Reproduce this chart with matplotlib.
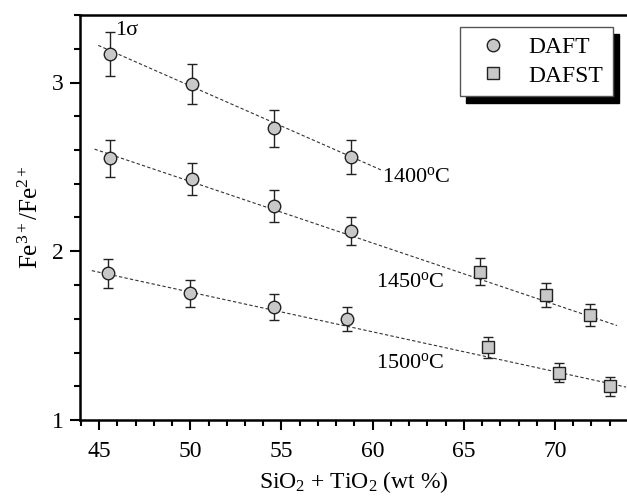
import numpy as np
import matplotlib.pyplot as plt
from matplotlib.ticker import MultipleLocator
from matplotlib.lines import Line2D

plt.rcParams['font.family'] = ['Liberation Serif', 'DejaVu Serif']
plt.rcParams['mathtext.fontset'] = 'custom'
plt.rcParams['mathtext.rm'] = 'Liberation Serif'
plt.rcParams['mathtext.it'] = 'Liberation Serif:italic'

# DAFT (circles)
x_daft = [45.6, 50.1, 54.6, 58.8]
y_daft_1400 = [3.17, 2.99, 2.73, 2.56]
e_daft_1400 = [0.13, 0.12, 0.11, 0.10]
y_daft_1450 = [2.55, 2.43, 2.27, 2.12]
e_daft_1450 = [0.11, 0.095, 0.095, 0.08]
y_daft_1500 = [1.87, 1.75, 1.67, 1.60]
e_daft_1500 = [0.085, 0.08, 0.075, 0.07]
x_daft_1500 = [45.5, 50.0, 54.6, 58.6]

# DAFST (squares)
x_dafst_1450 = [65.9, 69.5, 71.9]
y_dafst_1450 = [1.88, 1.74, 1.62]
e_dafst_1450 = [0.08, 0.07, 0.065]
x_dafst_1500 = [66.3, 70.2, 73.0]
y_dafst_1500 = [1.43, 1.28, 1.20]
e_dafst_1500 = [0.06, 0.057, 0.055]

# fitted lines (end points)
fit_1400_x = [44.95, 60.5]
fit_1400_y = [3.22, 2.48]
fit_1450_x = [44.75, 73.4]
fit_1450_y = [2.605, 1.56]
fit_1500_x = [44.6, 73.9]
fit_1500_y = [1.885, 1.195]

fig = plt.figure(figsize=(6.27, 4.97), dpi=100)
ax = fig.add_axes([80/627, 1-420/497, 547/627, 405/497])

fc = '#c8c8c8'
ec = '#222222'
for xs, ys in [(fit_1400_x, fit_1400_y), (fit_1450_x, fit_1450_y), (fit_1500_x, fit_1500_y)]:
    ax.plot(xs, ys, color='#333333', ls=(0, (3, 2)), lw=0.8, zorder=1)

kw = dict(fmt='o', ms=9, mfc=fc, mec=ec, mew=1.0, ecolor=ec, elinewidth=1.0,
          capsize=3.3, capthick=1.0, zorder=3)
ax.errorbar(x_daft, y_daft_1400, yerr=e_daft_1400, **kw)
ax.errorbar(x_daft, y_daft_1450, yerr=e_daft_1450, **kw)
ax.errorbar(x_daft_1500, y_daft_1500, yerr=e_daft_1500, **kw)
kw['fmt'] = 's'
kw['ms'] = 8.5
ax.errorbar(x_dafst_1450, y_dafst_1450, yerr=e_dafst_1450, **kw)
ax.errorbar(x_dafst_1500, y_dafst_1500, yerr=e_dafst_1500, **kw)

ax.set_xlim(43.95, 73.95)
ax.set_ylim(1, 3.4)
ax.xaxis.set_major_locator(MultipleLocator(5))
ax.xaxis.set_minor_locator(MultipleLocator(1))
ax.yaxis.set_major_locator(MultipleLocator(1))
ax.yaxis.set_minor_locator(MultipleLocator(0.2))
ax.tick_params(which='major', direction='out', length=7, width=1.5, labelsize=17)
ax.tick_params(axis='x', which='major', pad=8)
ax.tick_params(axis='y', which='major', pad=5)
ax.tick_params(which='minor', direction='out', length=4, width=1.5)
ax.tick_params(top=False, right=False)
for s in ['left', 'bottom', 'top']:
    ax.spines[s].set_linewidth(1.8)
ax.spines['right'].set_visible(False)

ax.set_xlabel(r'SiO$_2$ + TiO$_2$ (wt %)', fontsize=17, labelpad=5)
ax.set_ylabel(r'Fe$^{3+}$/Fe$^{2+}$', fontsize=18, labelpad=6)

ax.text(45.9, 3.31, '1σ', fontsize=16, va='center', ha='left')
ax.text(60.5, 2.44, r'1400$^{\rm o}$C', fontsize=16, va='center', ha='left')
ax.text(60.2, 1.82, r'1450$^{\rm o}$C', fontsize=16, va='center', ha='left')
ax.text(60.2, 1.34, r'1500$^{\rm o}$C', fontsize=16, va='center', ha='left')

handles = [Line2D([], [], ls='none', marker='o', ms=9, mfc=fc, mec=ec, mew=1.0),
           Line2D([], [], ls='none', marker='s', ms=8, mfc=fc, mec=ec, mew=1.0)]
leg = ax.legend(handles, ['DAFT', 'DAFST'], loc='upper right',
                bbox_to_anchor=((613 - 80) / 547, 1 - 12 / 405),
                bbox_transform=ax.transAxes, fontsize=17, frameon=True, fancybox=False,
                edgecolor='#555555', handletextpad=0.5, borderpad=0.4, labelspacing=0.3,
                handlelength=2.0, borderaxespad=0,
                shadow={'ox': 4, 'oy': -5, 'facecolor': 'black', 'edgecolor': 'black', 'alpha': 1.0})
leg.get_frame().set_linewidth(1.0)

fig.savefig('out.png', dpi=100)
